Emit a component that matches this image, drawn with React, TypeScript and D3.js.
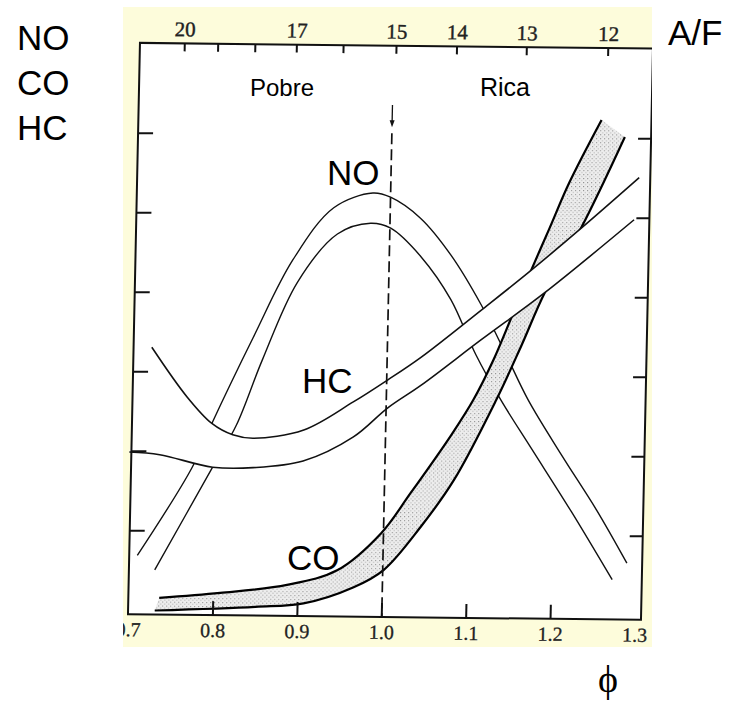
import React from "react";
import * as d3 from "d3";

// bottom axis: equivalence ratio phi
const phiTickValues = [0.8, 0.9, 1.0, 1.1, 1.2];
const phiLabelValues = [0.7, 0.8, 0.9, 1.0, 1.1, 1.2, 1.3];
// top axis: air / fuel ratio
const afTickValues = [20, 19, 18, 17, 16, 15, 14, 13, 12];
const afLabelValues = [20, 17, 15, 14, 13, 12];
const stoichAF = 15.05;
// unlabelled emission ticks (arbitrary units)
const yTickValues = [1, 2, 3, 4, 5, 6];

// curves: [phi, emission]
const noUpper = [
  [0.709, 0.69], [0.772, 1.81], [0.794, 2.36], [0.841, 3.45], [0.886, 4.43],
  [0.933, 5.09], [0.979, 5.28], [1.0, 5.23], [1.036, 4.97], [1.073, 4.51],
  [1.11, 3.89], [1.141, 3.26], [1.168, 2.7], [1.209, 2.01], [1.252, 1.32], [1.289, 0.66],
];
const noLower = [
  [0.73, 0.51], [0.796, 1.81], [0.823, 2.34], [0.852, 3.16], [0.892, 4.15],
  [0.938, 4.76], [0.977, 4.9], [1.001, 4.84], [1.038, 4.48], [1.074, 3.95],
  [1.105, 3.26], [1.136, 2.69], [1.173, 2.09], [1.222, 1.3], [1.272, 0.45],
];
const hcUpper = [
  [0.721, 3.31], [0.764, 2.69], [0.794, 2.36], [0.819, 2.22], [0.843, 2.18],
  [0.903, 2.29], [0.961, 2.65], [1.001, 2.93], [1.04, 3.22], [1.11, 3.82],
  [1.165, 4.3], [1.227, 4.87], [1.294, 5.51],
];
const hcLower = [
  [0.697, 1.99], [0.733, 1.96], [0.796, 1.81], [0.844, 1.81], [0.903, 1.9],
  [0.962, 2.21], [1.002, 2.58], [1.041, 2.87], [1.111, 3.45], [1.185, 4.05], [1.289, 4.98],
];
const coUpper = [
  [0.736, 0.16], [0.808, 0.23], [0.887, 0.34], [0.946, 0.53], [0.997, 1.0],
  [1.031, 1.51], [1.078, 2.25], [1.103, 2.69], [1.126, 3.2], [1.146, 3.73],
  [1.166, 4.27], [1.189, 4.86], [1.211, 5.43], [1.248, 6.23],
];
const coLower = [
  [0.731, 0.0], [0.85, 0.06], [0.907, 0.11], [0.966, 0.32], [1.001, 0.54],
  [1.044, 1.09], [1.082, 1.68], [1.13, 2.69], [1.159, 3.39], [1.185, 4.05],
  [1.227, 4.88], [1.276, 6.02],
];
const stoichLine = { phi: 1.0, top: 6.39, arrow: 6.11 };

const W = 731;
const H = 708;
const frame = { left: 134, right: 647, top: 45.7, bottom: 617 };
// the scanned figure is slightly skewed
const skew = "matrix(1 0.011 -0.021 1 6.93 -4.29)";
const sans = "'Liberation Sans', Arial, sans-serif";
const serif = "'Liberation Serif', 'Times New Roman', serif";

export default function App() {
  const x = d3.scaleLinear().domain([0.7, 1.3]).range([134.5, 641]);
  const y = d3.scaleLinear().domain([0, 7]).range([613, 56.5]);
  const xAF = (af: number) => x(stoichAF / af);

  const line = d3
    .line<number[]>()
    .x((d) => x(d[0]))
    .y((d) => y(d[1]))
    .curve(d3.curveCatmullRom.alpha(0.5));
  const band = (a: number[][], b: number[][]) =>
    line(a) + "L" + (line([...b].reverse()) as string).slice(1) + "Z";

  const xs = x(stoichLine.phi);
  const ya = y(stoichLine.arrow);

  return (
    <svg
      width={W}
      height={H}
      style={{ position: "absolute", left: 0, top: 0, display: "block", background: "#fff" }}
    >
      <defs>
        <pattern id="coDots" width="4" height="4" patternUnits="userSpaceOnUse">
          <rect width="4" height="4" fill="#ededed" />
          <rect x="0" y="0" width="1" height="1" fill="#8c8c8c" />
          <rect x="2" y="2" width="1" height="1" fill="#a8a8a8" />
        </pattern>
        <clipPath id="paper">
          <rect x="123" y="7" width="529" height="640" />
        </clipPath>
      </defs>

      <rect x="123" y="7" width="529" height="640" fill="#fdfcdb" />

      <g clipPath="url(#paper)">
        <g transform={skew}>
          <rect
            x={frame.left}
            y={frame.top}
            width={frame.right - frame.left}
            height={frame.bottom - frame.top}
            fill="#fff"
          />

          {/* NO */}
          <path d={line(noUpper) as string} fill="none" stroke="#111" strokeWidth={1.4} />
          <path d={line(noLower) as string} fill="none" stroke="#111" strokeWidth={1.4} />

          {/* CO band */}
          <path d={band(coUpper, coLower)} fill="url(#coDots)" stroke="none" />
          <path d={line(coUpper) as string} fill="none" stroke="#000" strokeWidth={2.2} />
          <path d={line(coLower) as string} fill="none" stroke="#000" strokeWidth={2.2} />

          {/* HC band */}
          <path d={band(hcUpper, hcLower)} fill="#fff" stroke="none" />
          <path d={line(hcUpper) as string} fill="none" stroke="#111" strokeWidth={1.6} />
          <path d={line(hcLower) as string} fill="none" stroke="#111" strokeWidth={1.6} />

          {/* stoichiometric line */}
          <line x1={xs} x2={xs} y1={y(stoichLine.top)} y2={ya - 4} stroke="#111" strokeWidth={1.3} />
          <path d={`M${xs - 2.5},${ya - 7}L${xs + 2.5},${ya - 7}L${xs},${ya}Z`} fill="#111" />
          <line
            x1={xs}
            x2={xs}
            y1={ya + 6}
            y2={frame.bottom}
            stroke="#111"
            strokeWidth={1.7}
            strokeDasharray="11,5"
          />

          {/* frame and ticks */}
          <rect
            x={frame.left}
            y={frame.top}
            width={frame.right - frame.left}
            height={frame.bottom - frame.top}
            fill="none"
            stroke="#111"
            strokeWidth={2}
          />
          {phiTickValues.map((v) => (
            <line key={"b" + v} x1={x(v)} x2={x(v)} y1={frame.bottom} y2={frame.bottom - 14} stroke="#111" strokeWidth={2} />
          ))}
          {afTickValues.map((v) => (
            <line key={"t" + v} x1={xAF(v)} x2={xAF(v)} y1={frame.top} y2={frame.top + 8} stroke="#111" strokeWidth={2} />
          ))}
          {yTickValues.map((v) => (
            <g key={"y" + v}>
              <line x1={frame.left} x2={frame.left + 15} y1={y(v)} y2={y(v)} stroke="#111" strokeWidth={2} />
              <line x1={frame.right} x2={frame.right - 13} y1={y(v)} y2={y(v)} stroke="#111" strokeWidth={2} />
            </g>
          ))}
          {phiLabelValues.map((v) => (
            <text
              key={"bl" + v}
              x={x(v)}
              y={frame.bottom + 22}
              textAnchor="middle"
              fontFamily={serif}
              fontSize={20}
              fill="#222"
              stroke="#222"
              strokeWidth={0.3}
            >
              {v.toFixed(1)}
            </text>
          ))}
          {afLabelValues.map((v) => (
            <text
              key={"tl" + v}
              x={xAF(v)}
              y={frame.top - 7}
              textAnchor="middle"
              fontFamily={serif}
              fontSize={21}
              fill="#222"
              stroke="#222"
              strokeWidth={0.4}
            >
              {v}
            </text>
          ))}
        </g>
      </g>

      {/* overlay labels */}
      <g fontFamily={sans} fill="#000">
        <text x={17} y={50} fontSize={35}>NO</text>
        <text x={17} y={95} fontSize={35}>CO</text>
        <text x={17} y={140} fontSize={35}>HC</text>
        <text x={668} y={45} fontSize={35}>A/F</text>
        <text x={250} y={96} fontSize={24}>Pobre</text>
        <text x={480} y={96} fontSize={25}>Rica</text>
        <text x={327} y={185} fontSize={35}>NO</text>
        <text x={302} y={393} fontSize={35}>HC</text>
        <text x={287} y={570} fontSize={35}>CO</text>
      </g>
      <text x={598} y={692} fontFamily={serif} fontSize={38} fill="#000">ϕ</text>
    </svg>
  );
}
